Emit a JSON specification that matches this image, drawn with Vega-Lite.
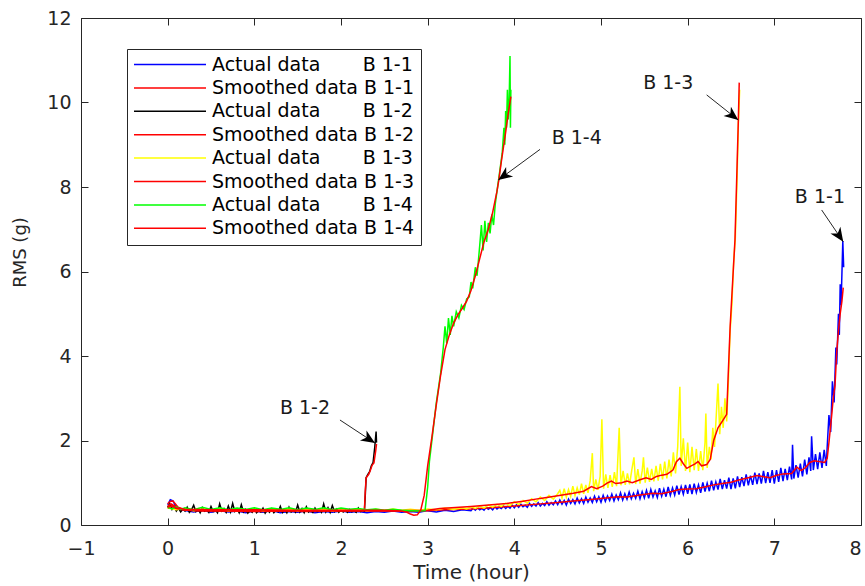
{
"$schema": "https://vega.github.io/schema/vega-lite/v6.json",
"width": 780, "height": 507,
"autosize": {"type": "none"},
"padding": {"left": 81, "top": 18, "right": 4, "bottom": 61},
"background": "white",
"config": {
  "view": {"stroke": null},
  "font": "DejaVu Sans",
  "axis": {"grid": false, "domainColor": "#262626", "tickColor": "#262626", "labelColor": "#262626", "titleColor": "#262626", "labelFont": "DejaVu Sans", "titleFont": "DejaVu Sans", "labelFontSize": 19, "titleFontSize": 19, "titleFontWeight": "normal", "tickSize": -7, "labelFlush": false, "domainWidth": 1, "tickWidth": 1}
},
"datasets": {
"rms": [
{"s":"A1","t":0,"v":0.48},{"s":"A1","t":0.03,"v":0.6},{"s":"A1","t":0.06,"v":0.57},{"s":"A1","t":0.09,"v":0.46},{"s":"A1","t":0.12,"v":0.39},{"s":"A1","t":0.2,"v":0.34},{"s":"A1","t":0.3,"v":0.31},{"s":"A1","t":0.4,"v":0.35},{"s":"A1","t":0.5,"v":0.3},{"s":"A1","t":0.6,"v":0.34},{"s":"A1","t":0.7,"v":0.31},{"s":"A1","t":0.8,"v":0.33},{"s":"A1","t":0.9,"v":0.29},{"s":"A1","t":1.0,"v":0.33},{"s":"A1","t":1.1,"v":0.3},{"s":"A1","t":1.2,"v":0.34},{"s":"A1","t":1.3,"v":0.29},{"s":"A1","t":1.4,"v":0.32},{"s":"A1","t":1.5,"v":0.3},{"s":"A1","t":1.6,"v":0.33},{"s":"A1","t":1.7,"v":0.29},{"s":"A1","t":1.8,"v":0.32},{"s":"A1","t":1.9,"v":0.3},{"s":"A1","t":2.0,"v":0.33},{"s":"A1","t":2.1,"v":0.3},{"s":"A1","t":2.2,"v":0.32},{"s":"A1","t":2.3,"v":0.29},{"s":"A1","t":2.4,"v":0.32},{"s":"A1","t":2.5,"v":0.3},{"s":"A1","t":2.6,"v":0.33},{"s":"A1","t":2.7,"v":0.3},{"s":"A1","t":2.8,"v":0.32},{"s":"A1","t":2.9,"v":0.3},{"s":"A1","t":3.0,"v":0.34},{"s":"A1","t":3.1,"v":0.31},{"s":"A1","t":3.2,"v":0.35},{"s":"A1","t":3.3,"v":0.32},{"s":"A1","t":3.4,"v":0.36},{"s":"A1","t":3.5,"v":0.34},
{"s":"A1","t":3.525,"v":0.4},{"s":"A1","t":3.55,"v":0.35},{"s":"A1","t":3.575,"v":0.41},{"s":"A1","t":3.6,"v":0.36},{"s":"A1","t":3.625,"v":0.39},{"s":"A1","t":3.65,"v":0.35},{"s":"A1","t":3.675,"v":0.42},{"s":"A1","t":3.7,"v":0.37},{"s":"A1","t":3.725,"v":0.41},{"s":"A1","t":3.75,"v":0.36},{"s":"A1","t":3.775,"v":0.43},{"s":"A1","t":3.8,"v":0.38},{"s":"A1","t":3.825,"v":0.42},{"s":"A1","t":3.85,"v":0.39},{"s":"A1","t":3.875,"v":0.45},{"s":"A1","t":3.9,"v":0.39},{"s":"A1","t":3.925,"v":0.44},{"s":"A1","t":3.95,"v":0.4},{"s":"A1","t":3.975,"v":0.47},{"s":"A1","t":4.0,"v":0.41},
{"s":"A1","t":4.025,"v":0.48},{"s":"A1","t":4.05,"v":0.42},{"s":"A1","t":4.075,"v":0.49},{"s":"A1","t":4.1,"v":0.43},{"s":"A1","t":4.125,"v":0.47},{"s":"A1","t":4.15,"v":0.42},{"s":"A1","t":4.175,"v":0.51},{"s":"A1","t":4.2,"v":0.44},{"s":"A1","t":4.225,"v":0.5},{"s":"A1","t":4.25,"v":0.45},{"s":"A1","t":4.275,"v":0.53},{"s":"A1","t":4.3,"v":0.45},{"s":"A1","t":4.325,"v":0.51},{"s":"A1","t":4.35,"v":0.46},{"s":"A1","t":4.375,"v":0.55},{"s":"A1","t":4.4,"v":0.47},{"s":"A1","t":4.425,"v":0.53},{"s":"A1","t":4.45,"v":0.48},{"s":"A1","t":4.475,"v":0.57},{"s":"A1","t":4.5,"v":0.48},
{"s":"A1","t":4.525,"v":0.59},{"s":"A1","t":4.55,"v":0.49},{"s":"A1","t":4.575,"v":0.58},{"s":"A1","t":4.6,"v":0.47},{"s":"A1","t":4.625,"v":0.61},{"s":"A1","t":4.65,"v":0.51},{"s":"A1","t":4.675,"v":0.6},{"s":"A1","t":4.7,"v":0.5},{"s":"A1","t":4.725,"v":0.64},{"s":"A1","t":4.75,"v":0.52},{"s":"A1","t":4.775,"v":0.62},{"s":"A1","t":4.8,"v":0.51},{"s":"A1","t":4.825,"v":0.66},{"s":"A1","t":4.85,"v":0.54},{"s":"A1","t":4.875,"v":0.64},{"s":"A1","t":4.9,"v":0.53},{"s":"A1","t":4.925,"v":0.68},{"s":"A1","t":4.95,"v":0.55},{"s":"A1","t":4.975,"v":0.67},{"s":"A1","t":5.0,"v":0.54},
{"s":"A1","t":5.025,"v":0.7},{"s":"A1","t":5.05,"v":0.56},{"s":"A1","t":5.075,"v":0.69},{"s":"A1","t":5.1,"v":0.58},{"s":"A1","t":5.125,"v":0.73},{"s":"A1","t":5.15,"v":0.57},{"s":"A1","t":5.175,"v":0.71},{"s":"A1","t":5.2,"v":0.6},{"s":"A1","t":5.225,"v":0.76},{"s":"A1","t":5.25,"v":0.59},{"s":"A1","t":5.275,"v":0.74},{"s":"A1","t":5.3,"v":0.61},{"s":"A1","t":5.325,"v":0.78},{"s":"A1","t":5.35,"v":0.62},{"s":"A1","t":5.375,"v":0.75},{"s":"A1","t":5.4,"v":0.63},{"s":"A1","t":5.425,"v":0.8},{"s":"A1","t":5.45,"v":0.62},{"s":"A1","t":5.475,"v":0.79},{"s":"A1","t":5.5,"v":0.64},
{"s":"A1","t":5.525,"v":0.82},{"s":"A1","t":5.55,"v":0.63},{"s":"A1","t":5.575,"v":0.84},{"s":"A1","t":5.6,"v":0.66},{"s":"A1","t":5.625,"v":0.81},{"s":"A1","t":5.65,"v":0.65},{"s":"A1","t":5.675,"v":0.87},{"s":"A1","t":5.7,"v":0.68},{"s":"A1","t":5.725,"v":0.85},{"s":"A1","t":5.75,"v":0.67},{"s":"A1","t":5.775,"v":0.9},{"s":"A1","t":5.8,"v":0.7},{"s":"A1","t":5.825,"v":0.88},{"s":"A1","t":5.85,"v":0.71},{"s":"A1","t":5.875,"v":0.93},{"s":"A1","t":5.9,"v":0.72},{"s":"A1","t":5.925,"v":0.91},{"s":"A1","t":5.95,"v":0.73},{"s":"A1","t":5.975,"v":0.95},{"s":"A1","t":6.0,"v":0.74},
{"s":"A1","t":6.025,"v":0.96},{"s":"A1","t":6.05,"v":0.73},{"s":"A1","t":6.075,"v":0.98},{"s":"A1","t":6.1,"v":0.77},{"s":"A1","t":6.125,"v":0.95},{"s":"A1","t":6.15,"v":0.76},{"s":"A1","t":6.175,"v":1.01},{"s":"A1","t":6.2,"v":0.79},{"s":"A1","t":6.225,"v":0.99},{"s":"A1","t":6.25,"v":0.8},{"s":"A1","t":6.275,"v":1.05},{"s":"A1","t":6.3,"v":0.82},{"s":"A1","t":6.325,"v":1.02},{"s":"A1","t":6.35,"v":0.84},{"s":"A1","t":6.375,"v":1.09},{"s":"A1","t":6.4,"v":0.85},{"s":"A1","t":6.425,"v":1.06},{"s":"A1","t":6.45,"v":0.86},{"s":"A1","t":6.475,"v":1.12},{"s":"A1","t":6.5,"v":0.85},
{"s":"A1","t":6.525,"v":1.1},{"s":"A1","t":6.55,"v":0.87},{"s":"A1","t":6.575,"v":1.15},{"s":"A1","t":6.6,"v":0.9},{"s":"A1","t":6.625,"v":1.13},{"s":"A1","t":6.65,"v":0.92},{"s":"A1","t":6.675,"v":1.2},{"s":"A1","t":6.7,"v":0.94},{"s":"A1","t":6.725,"v":1.17},{"s":"A1","t":6.75,"v":0.95},{"s":"A1","t":6.775,"v":1.24},{"s":"A1","t":6.8,"v":0.97},{"s":"A1","t":6.825,"v":1.22},{"s":"A1","t":6.85,"v":0.98},{"s":"A1","t":6.875,"v":1.28},{"s":"A1","t":6.9,"v":0.99},{"s":"A1","t":6.925,"v":1.25},{"s":"A1","t":6.95,"v":1.0},{"s":"A1","t":6.975,"v":1.3},{"s":"A1","t":7.0,"v":0.98},
{"s":"A1","t":7.025,"v":1.3},{"s":"A1","t":7.05,"v":1.02},{"s":"A1","t":7.075,"v":1.35},{"s":"A1","t":7.1,"v":1.04},{"s":"A1","t":7.125,"v":1.33},{"s":"A1","t":7.15,"v":1.06},{"s":"A1","t":7.175,"v":1.38},{"s":"A1","t":7.2,"v":1.08},{"s":"A1","t":7.21,"v":1.9},{"s":"A1","t":7.225,"v":1.1},{"s":"A1","t":7.25,"v":1.42},{"s":"A1","t":7.275,"v":1.12},{"s":"A1","t":7.3,"v":1.45},{"s":"A1","t":7.325,"v":1.15},{"s":"A1","t":7.35,"v":1.55},{"s":"A1","t":7.375,"v":1.2},{"s":"A1","t":7.4,"v":1.6},{"s":"A1","t":7.42,"v":1.28},{"s":"A1","t":7.43,"v":2.1},{"s":"A1","t":7.45,"v":1.3},{"s":"A1","t":7.475,"v":1.68},{"s":"A1","t":7.5,"v":1.32},{"s":"A1","t":7.525,"v":1.72},{"s":"A1","t":7.55,"v":1.35},{"s":"A1","t":7.575,"v":1.78},{"s":"A1","t":7.6,"v":1.4},{"s":"A1","t":7.61,"v":1.85},
{"s":"A1","t":7.63,"v":2.6},{"s":"A1","t":7.65,"v":2.2},{"s":"A1","t":7.67,"v":3.4},{"s":"A1","t":7.69,"v":2.9},{"s":"A1","t":7.71,"v":4.2},{"s":"A1","t":7.72,"v":3.8},{"s":"A1","t":7.74,"v":5.0},{"s":"A1","t":7.75,"v":4.5},{"s":"A1","t":7.76,"v":5.7},{"s":"A1","t":7.77,"v":5.2},{"s":"A1","t":7.79,"v":6.72},{"s":"A1","t":7.8,"v":6.1},
{"s":"S1","t":0,"v":0.5},{"s":"S1","t":0.03,"v":0.56},{"s":"S1","t":0.06,"v":0.57},{"s":"S1","t":0.09,"v":0.5},{"s":"S1","t":0.12,"v":0.42},{"s":"S1","t":0.2,"v":0.36},{"s":"S1","t":0.4,"v":0.34},{"s":"S1","t":0.8,"v":0.33},{"s":"S1","t":1.2,"v":0.33},{"s":"S1","t":1.6,"v":0.32},{"s":"S1","t":2.0,"v":0.33},{"s":"S1","t":2.4,"v":0.33},{"s":"S1","t":2.8,"v":0.33},{"s":"S1","t":3.0,"v":0.34},{"s":"S1","t":3.2,"v":0.36},{"s":"S1","t":3.5,"v":0.38},{"s":"S1","t":3.8,"v":0.42},{"s":"S1","t":4.0,"v":0.45},{"s":"S1","t":4.3,"v":0.5},{"s":"S1","t":4.5,"v":0.53},{"s":"S1","t":4.68,"v":0.57},{"s":"S1","t":4.85,"v":0.6},{"s":"S1","t":5.0,"v":0.63},{"s":"S1","t":5.2,"v":0.67},{"s":"S1","t":5.3,"v":0.66},{"s":"S1","t":5.45,"v":0.71},{"s":"S1","t":5.6,"v":0.75},{"s":"S1","t":5.7,"v":0.74},{"s":"S1","t":5.83,"v":0.8},{"s":"S1","t":5.9,"v":0.84},{"s":"S1","t":6.0,"v":0.85},{"s":"S1","t":6.1,"v":0.86},{"s":"S1","t":6.22,"v":0.91},{"s":"S1","t":6.3,"v":0.95},{"s":"S1","t":6.4,"v":0.98},{"s":"S1","t":6.5,"v":1.01},{"s":"S1","t":6.6,"v":1.07},{"s":"S1","t":6.7,"v":1.12},{"s":"S1","t":6.8,"v":1.17},{"s":"S1","t":6.88,"v":1.14},{"s":"S1","t":6.95,"v":1.12},{"s":"S1","t":7.02,"v":1.17},{"s":"S1","t":7.1,"v":1.21},{"s":"S1","t":7.2,"v":1.22},{"s":"S1","t":7.26,"v":1.37},{"s":"S1","t":7.31,"v":1.29},{"s":"S1","t":7.36,"v":1.36},{"s":"S1","t":7.41,"v":1.48},{"s":"S1","t":7.46,"v":1.52},{"s":"S1","t":7.52,"v":1.5},{"s":"S1","t":7.58,"v":1.48},{"s":"S1","t":7.61,"v":1.58},{"s":"S1","t":7.63,"v":1.95},{"s":"S1","t":7.66,"v":2.56},{"s":"S1","t":7.68,"v":3.0},{"s":"S1","t":7.7,"v":3.3},{"s":"S1","t":7.72,"v":4.1},{"s":"S1","t":7.74,"v":4.6},{"s":"S1","t":7.76,"v":5.0},{"s":"S1","t":7.78,"v":5.3},{"s":"S1","t":7.795,"v":5.62},
{"s":"A2","t":0,"v":0.42},{"s":"A2","t":0.025,"v":0.5},{"s":"A2","t":0.05,"v":0.37},{"s":"A2","t":0.075,"v":0.44},{"s":"A2","t":0.1,"v":0.33},{"s":"A2","t":0.125,"v":0.4},{"s":"A2","t":0.15,"v":0.31},{"s":"A2","t":0.175,"v":0.38},{"s":"A2","t":0.2,"v":0.33},{"s":"A2","t":0.225,"v":0.42},{"s":"A2","t":0.25,"v":0.3},{"s":"A2","t":0.275,"v":0.36},{"s":"A2","t":0.3,"v":0.47},{"s":"A2","t":0.325,"v":0.32},{"s":"A2","t":0.35,"v":0.38},{"s":"A2","t":0.375,"v":0.29},{"s":"A2","t":0.4,"v":0.41},{"s":"A2","t":0.425,"v":0.33},{"s":"A2","t":0.45,"v":0.37},{"s":"A2","t":0.475,"v":0.3},{"s":"A2","t":0.5,"v":0.44},{"s":"A2","t":0.525,"v":0.32},{"s":"A2","t":0.55,"v":0.36},{"s":"A2","t":0.575,"v":0.29},{"s":"A2","t":0.6,"v":0.5},{"s":"A2","t":0.625,"v":0.33},{"s":"A2","t":0.65,"v":0.39},{"s":"A2","t":0.675,"v":0.3},{"s":"A2","t":0.7,"v":0.45},{"s":"A2","t":0.725,"v":0.31},{"s":"A2","t":0.75,"v":0.51},{"s":"A2","t":0.775,"v":0.32},{"s":"A2","t":0.8,"v":0.38},{"s":"A2","t":0.825,"v":0.29},{"s":"A2","t":0.85,"v":0.48},{"s":"A2","t":0.875,"v":0.31},{"s":"A2","t":0.9,"v":0.37},{"s":"A2","t":0.925,"v":0.28},{"s":"A2","t":0.95,"v":0.35},{"s":"A2","t":0.975,"v":0.3},{"s":"A2","t":1.0,"v":0.39},{"s":"A2","t":1.025,"v":0.29},{"s":"A2","t":1.05,"v":0.34},{"s":"A2","t":1.075,"v":0.31},{"s":"A2","t":1.1,"v":0.4},{"s":"A2","t":1.125,"v":0.28},{"s":"A2","t":1.15,"v":0.36},{"s":"A2","t":1.175,"v":0.3},{"s":"A2","t":1.2,"v":0.38},{"s":"A2","t":1.225,"v":0.29},{"s":"A2","t":1.25,"v":0.35},{"s":"A2","t":1.275,"v":0.31},{"s":"A2","t":1.3,"v":0.44},{"s":"A2","t":1.325,"v":0.3},{"s":"A2","t":1.35,"v":0.37},{"s":"A2","t":1.375,"v":0.29},{"s":"A2","t":1.4,"v":0.42},{"s":"A2","t":1.425,"v":0.31},{"s":"A2","t":1.45,"v":0.36},{"s":"A2","t":1.475,"v":0.3},{"s":"A2","t":1.5,"v":0.47},{"s":"A2","t":1.525,"v":0.31},{"s":"A2","t":1.55,"v":0.39},{"s":"A2","t":1.575,"v":0.29},{"s":"A2","t":1.6,"v":0.43},{"s":"A2","t":1.625,"v":0.31},{"s":"A2","t":1.65,"v":0.36},{"s":"A2","t":1.675,"v":0.3},{"s":"A2","t":1.7,"v":0.4},{"s":"A2","t":1.725,"v":0.32},{"s":"A2","t":1.75,"v":0.37},{"s":"A2","t":1.775,"v":0.3},{"s":"A2","t":1.8,"v":0.5},{"s":"A2","t":1.825,"v":0.31},{"s":"A2","t":1.85,"v":0.41},{"s":"A2","t":1.875,"v":0.3},{"s":"A2","t":1.9,"v":0.46},{"s":"A2","t":1.925,"v":0.32},{"s":"A2","t":1.95,"v":0.38},{"s":"A2","t":1.975,"v":0.3},{"s":"A2","t":2.0,"v":0.36},{"s":"A2","t":2.025,"v":0.31},{"s":"A2","t":2.05,"v":0.35},{"s":"A2","t":2.075,"v":0.3},{"s":"A2","t":2.1,"v":0.37},{"s":"A2","t":2.125,"v":0.31},{"s":"A2","t":2.15,"v":0.34},{"s":"A2","t":2.175,"v":0.3},{"s":"A2","t":2.2,"v":0.4},{"s":"A2","t":2.225,"v":0.32},{"s":"A2","t":2.25,"v":0.35},{"s":"A2","t":2.27,"v":0.33},{"s":"A2","t":2.28,"v":0.7},{"s":"A2","t":2.29,"v":1.12},{"s":"A2","t":2.31,"v":1.2},{"s":"A2","t":2.33,"v":1.26},{"s":"A2","t":2.35,"v":1.4},{"s":"A2","t":2.37,"v":1.48},{"s":"A2","t":2.39,"v":1.85},{"s":"A2","t":2.405,"v":2.21},{"s":"A2","t":2.41,"v":1.95},
{"s":"S2","t":0,"v":0.44},{"s":"S2","t":0.04,"v":0.5},{"s":"S2","t":0.08,"v":0.45},{"s":"S2","t":0.15,"v":0.37},{"s":"S2","t":0.3,"v":0.34},{"s":"S2","t":0.6,"v":0.33},{"s":"S2","t":1.0,"v":0.32},{"s":"S2","t":1.4,"v":0.33},{"s":"S2","t":1.8,"v":0.33},{"s":"S2","t":2.2,"v":0.33},{"s":"S2","t":2.27,"v":0.34},{"s":"S2","t":2.28,"v":0.8},{"s":"S2","t":2.29,"v":1.12},{"s":"S2","t":2.32,"v":1.2},{"s":"S2","t":2.34,"v":1.3},{"s":"S2","t":2.36,"v":1.42},{"s":"S2","t":2.38,"v":1.47},{"s":"S2","t":2.4,"v":1.75},{"s":"S2","t":2.41,"v":1.92},
{"s":"A3","t":0,"v":0.4},{"s":"A3","t":0.1,"v":0.36},{"s":"A3","t":0.2,"v":0.39},{"s":"A3","t":0.3,"v":0.34},{"s":"A3","t":0.4,"v":0.38},{"s":"A3","t":0.5,"v":0.35},{"s":"A3","t":0.6,"v":0.39},{"s":"A3","t":0.7,"v":0.34},{"s":"A3","t":0.8,"v":0.37},{"s":"A3","t":0.9,"v":0.35},{"s":"A3","t":1.0,"v":0.38},{"s":"A3","t":1.1,"v":0.34},{"s":"A3","t":1.2,"v":0.37},{"s":"A3","t":1.3,"v":0.35},{"s":"A3","t":1.4,"v":0.38},{"s":"A3","t":1.5,"v":0.34},{"s":"A3","t":1.6,"v":0.37},{"s":"A3","t":1.7,"v":0.35},{"s":"A3","t":1.8,"v":0.38},{"s":"A3","t":1.9,"v":0.34},{"s":"A3","t":2.0,"v":0.36},{"s":"A3","t":2.1,"v":0.35},{"s":"A3","t":2.2,"v":0.38},{"s":"A3","t":2.3,"v":0.34},{"s":"A3","t":2.4,"v":0.37},{"s":"A3","t":2.5,"v":0.35},{"s":"A3","t":2.6,"v":0.38},{"s":"A3","t":2.7,"v":0.35},{"s":"A3","t":2.8,"v":0.37},{"s":"A3","t":2.9,"v":0.35},{"s":"A3","t":3.0,"v":0.38},{"s":"A3","t":3.1,"v":0.36},{"s":"A3","t":3.2,"v":0.4},{"s":"A3","t":3.3,"v":0.37},{"s":"A3","t":3.4,"v":0.41},
{"s":"A3","t":3.45,"v":0.38},{"s":"A3","t":3.5,"v":0.43},{"s":"A3","t":3.55,"v":0.39},{"s":"A3","t":3.6,"v":0.45},{"s":"A3","t":3.65,"v":0.4},{"s":"A3","t":3.7,"v":0.47},{"s":"A3","t":3.75,"v":0.42},{"s":"A3","t":3.8,"v":0.49},{"s":"A3","t":3.85,"v":0.44},{"s":"A3","t":3.9,"v":0.52},{"s":"A3","t":3.95,"v":0.46},{"s":"A3","t":4.0,"v":0.55},{"s":"A3","t":4.05,"v":0.49},{"s":"A3","t":4.1,"v":0.58},{"s":"A3","t":4.15,"v":0.52},{"s":"A3","t":4.2,"v":0.62},{"s":"A3","t":4.25,"v":0.55},{"s":"A3","t":4.3,"v":0.66},{"s":"A3","t":4.35,"v":0.58},{"s":"A3","t":4.4,"v":0.7},{"s":"A3","t":4.45,"v":0.61},{"s":"A3","t":4.5,"v":0.74},
{"s":"A3","t":4.525,"v":0.82},{"s":"A3","t":4.55,"v":0.64},{"s":"A3","t":4.575,"v":0.86},{"s":"A3","t":4.6,"v":0.66},{"s":"A3","t":4.625,"v":0.84},{"s":"A3","t":4.65,"v":0.68},{"s":"A3","t":4.675,"v":0.92},{"s":"A3","t":4.7,"v":0.7},{"s":"A3","t":4.725,"v":0.88},{"s":"A3","t":4.75,"v":0.72},{"s":"A3","t":4.775,"v":0.98},{"s":"A3","t":4.8,"v":0.74},{"s":"A3","t":4.825,"v":0.95},{"s":"A3","t":4.85,"v":0.76},{"s":"A3","t":4.875,"v":1.05},{"s":"A3","t":4.9,"v":1.7},{"s":"A3","t":4.915,"v":0.8},{"s":"A3","t":4.94,"v":1.08},{"s":"A3","t":4.965,"v":0.83},{"s":"A3","t":4.99,"v":1.15},{"s":"A3","t":5.01,"v":2.5},{"s":"A3","t":5.03,"v":0.86},{"s":"A3","t":5.055,"v":1.2},{"s":"A3","t":5.08,"v":0.88},{"s":"A3","t":5.105,"v":1.18},{"s":"A3","t":5.13,"v":0.9},{"s":"A3","t":5.155,"v":1.25},{"s":"A3","t":5.18,"v":0.92},{"s":"A3","t":5.21,"v":2.3},{"s":"A3","t":5.23,"v":0.94},{"s":"A3","t":5.255,"v":1.28},{"s":"A3","t":5.28,"v":0.95},{"s":"A3","t":5.305,"v":1.22},{"s":"A3","t":5.33,"v":0.96},{"s":"A3","t":5.355,"v":1.3},{"s":"A3","t":5.38,"v":1.6},{"s":"A3","t":5.4,"v":0.97},{"s":"A3","t":5.425,"v":1.32},{"s":"A3","t":5.45,"v":0.98},{"s":"A3","t":5.475,"v":1.28},{"s":"A3","t":5.49,"v":1.6},{"s":"A3","t":5.51,"v":1.0},{"s":"A3","t":5.535,"v":1.36},{"s":"A3","t":5.56,"v":1.02},{"s":"A3","t":5.585,"v":1.33},{"s":"A3","t":5.61,"v":1.03},{"s":"A3","t":5.635,"v":1.4},{"s":"A3","t":5.66,"v":1.05},{"s":"A3","t":5.685,"v":1.45},{"s":"A3","t":5.71,"v":1.08},{"s":"A3","t":5.735,"v":1.5},{"s":"A3","t":5.76,"v":1.1},{"s":"A3","t":5.785,"v":1.55},{"s":"A3","t":5.81,"v":1.15},{"s":"A3","t":5.835,"v":1.72},{"s":"A3","t":5.86,"v":1.22},{"s":"A3","t":5.885,"v":1.85},{"s":"A3","t":5.91,"v":3.27},{"s":"A3","t":5.925,"v":1.4},{"s":"A3","t":5.95,"v":2.05},{"s":"A3","t":5.975,"v":1.28},{"s":"A3","t":6.0,"v":1.95},{"s":"A3","t":6.025,"v":1.25},{"s":"A3","t":6.05,"v":1.85},{"s":"A3","t":6.075,"v":1.3},{"s":"A3","t":6.1,"v":1.8},{"s":"A3","t":6.125,"v":1.28},{"s":"A3","t":6.15,"v":1.75},{"s":"A3","t":6.175,"v":1.3},{"s":"A3","t":6.2,"v":1.95},{"s":"A3","t":6.21,"v":2.64},{"s":"A3","t":6.225,"v":1.35},{"s":"A3","t":6.25,"v":1.85},{"s":"A3","t":6.27,"v":1.55},{"s":"A3","t":6.29,"v":2.3},{"s":"A3","t":6.31,"v":1.85},{"s":"A3","t":6.33,"v":2.6},{"s":"A3","t":6.35,"v":3.35},{"s":"A3","t":6.37,"v":2.15},{"s":"A3","t":6.39,"v":2.8},{"s":"A3","t":6.41,"v":2.3},{"s":"A3","t":6.43,"v":3.0},{"s":"A3","t":6.45,"v":2.45},{"s":"A3","t":6.47,"v":3.4},{"s":"A3","t":6.49,"v":4.6},{"s":"A3","t":6.51,"v":5.2},{"s":"A3","t":6.53,"v":6.2},{"s":"A3","t":6.55,"v":6.8},{"s":"A3","t":6.57,"v":8.2},{"s":"A3","t":6.585,"v":9.5},{"s":"A3","t":6.6,"v":10.3},
{"s":"S3","t":0,"v":0.4},{"s":"S3","t":0.05,"v":0.44},{"s":"S3","t":0.1,"v":0.39},{"s":"S3","t":0.2,"v":0.35},{"s":"S3","t":0.5,"v":0.34},{"s":"S3","t":1.0,"v":0.34},{"s":"S3","t":1.5,"v":0.34},{"s":"S3","t":2.0,"v":0.34},{"s":"S3","t":2.5,"v":0.34},{"s":"S3","t":3.0,"v":0.35},{"s":"S3","t":3.14,"v":0.39},{"s":"S3","t":3.5,"v":0.44},{"s":"S3","t":3.91,"v":0.51},{"s":"S3","t":4.1,"v":0.56},{"s":"S3","t":4.3,"v":0.63},{"s":"S3","t":4.5,"v":0.69},{"s":"S3","t":4.68,"v":0.75},{"s":"S3","t":4.8,"v":0.8},{"s":"S3","t":4.89,"v":0.91},{"s":"S3","t":4.95,"v":0.86},{"s":"S3","t":5.02,"v":0.92},{"s":"S3","t":5.07,"v":0.99},{"s":"S3","t":5.12,"v":1.04},{"s":"S3","t":5.17,"v":0.98},{"s":"S3","t":5.24,"v":1.0},{"s":"S3","t":5.3,"v":1.04},{"s":"S3","t":5.36,"v":1.0},{"s":"S3","t":5.45,"v":1.07},{"s":"S3","t":5.52,"v":1.12},{"s":"S3","t":5.58,"v":1.08},{"s":"S3","t":5.64,"v":1.15},{"s":"S3","t":5.7,"v":1.18},{"s":"S3","t":5.76,"v":1.2},{"s":"S3","t":5.83,"v":1.3},{"s":"S3","t":5.87,"v":1.5},{"s":"S3","t":5.91,"v":1.58},{"s":"S3","t":5.95,"v":1.45},{"s":"S3","t":5.99,"v":1.34},{"s":"S3","t":6.04,"v":1.4},{"s":"S3","t":6.08,"v":1.44},{"s":"S3","t":6.12,"v":1.5},{"s":"S3","t":6.16,"v":1.4},{"s":"S3","t":6.22,"v":1.43},{"s":"S3","t":6.26,"v":1.55},{"s":"S3","t":6.3,"v":2.0},{"s":"S3","t":6.35,"v":2.3},{"s":"S3","t":6.41,"v":2.49},{"s":"S3","t":6.45,"v":2.62},{"s":"S3","t":6.47,"v":3.67},{"s":"S3","t":6.49,"v":4.69},{"s":"S3","t":6.52,"v":5.8},{"s":"S3","t":6.546,"v":6.75},{"s":"S3","t":6.57,"v":8.5},{"s":"S3","t":6.585,"v":9.6},{"s":"S3","t":6.595,"v":10.47},
{"s":"A4","t":0,"v":0.42},{"s":"A4","t":0.05,"v":0.38},{"s":"A4","t":0.1,"v":0.43},{"s":"A4","t":0.15,"v":0.37},{"s":"A4","t":0.2,"v":0.41},{"s":"A4","t":0.3,"v":0.36},{"s":"A4","t":0.4,"v":0.42},{"s":"A4","t":0.5,"v":0.37},{"s":"A4","t":0.6,"v":0.41},{"s":"A4","t":0.7,"v":0.36},{"s":"A4","t":0.8,"v":0.4},{"s":"A4","t":0.9,"v":0.37},{"s":"A4","t":1.0,"v":0.41},{"s":"A4","t":1.1,"v":0.36},{"s":"A4","t":1.2,"v":0.4},{"s":"A4","t":1.3,"v":0.37},{"s":"A4","t":1.4,"v":0.41},{"s":"A4","t":1.5,"v":0.36},{"s":"A4","t":1.6,"v":0.4},{"s":"A4","t":1.7,"v":0.37},{"s":"A4","t":1.8,"v":0.41},{"s":"A4","t":1.9,"v":0.36},{"s":"A4","t":2.0,"v":0.4},{"s":"A4","t":2.1,"v":0.37},{"s":"A4","t":2.2,"v":0.39},{"s":"A4","t":2.3,"v":0.36},{"s":"A4","t":2.4,"v":0.38},{"s":"A4","t":2.5,"v":0.35},{"s":"A4","t":2.6,"v":0.37},{"s":"A4","t":2.7,"v":0.35},{"s":"A4","t":2.8,"v":0.34},{"s":"A4","t":2.9,"v":0.33},{"s":"A4","t":2.97,"v":0.34},{"s":"A4","t":3.0,"v":0.9},{"s":"A4","t":3.02,"v":1.5},{"s":"A4","t":3.06,"v":2.2},{"s":"A4","t":3.1,"v":2.9},{"s":"A4","t":3.15,"v":3.6},{"s":"A4","t":3.18,"v":4.2},{"s":"A4","t":3.2,"v":4.7},{"s":"A4","t":3.22,"v":4.3},{"s":"A4","t":3.24,"v":4.9},{"s":"A4","t":3.26,"v":4.5},{"s":"A4","t":3.28,"v":4.95},{"s":"A4","t":3.3,"v":4.7},{"s":"A4","t":3.33,"v":5.05},{"s":"A4","t":3.36,"v":4.9},{"s":"A4","t":3.39,"v":5.2},{"s":"A4","t":3.42,"v":5.1},{"s":"A4","t":3.45,"v":5.35},{"s":"A4","t":3.48,"v":5.4},{"s":"A4","t":3.5,"v":5.75},{"s":"A4","t":3.52,"v":5.6},{"s":"A4","t":3.55,"v":6.1},{"s":"A4","t":3.57,"v":5.9},{"s":"A4","t":3.6,"v":6.6},{"s":"A4","t":3.62,"v":7.1},{"s":"A4","t":3.64,"v":6.5},{"s":"A4","t":3.66,"v":7.2},{"s":"A4","t":3.68,"v":6.7},{"s":"A4","t":3.7,"v":7.15},{"s":"A4","t":3.72,"v":6.9},{"s":"A4","t":3.74,"v":7.35},{"s":"A4","t":3.76,"v":7.1},{"s":"A4","t":3.78,"v":7.6},{"s":"A4","t":3.8,"v":7.9},{"s":"A4","t":3.82,"v":8.2},{"s":"A4","t":3.84,"v":8.5},{"s":"A4","t":3.86,"v":8.8},{"s":"A4","t":3.88,"v":9.4},{"s":"A4","t":3.89,"v":9.0},{"s":"A4","t":3.9,"v":9.8},{"s":"A4","t":3.91,"v":9.4},{"s":"A4","t":3.92,"v":10.3},{"s":"A4","t":3.93,"v":9.6},{"s":"A4","t":3.94,"v":10.0},{"s":"A4","t":3.95,"v":11.1},{"s":"A4","t":3.955,"v":9.4},{"s":"A4","t":3.96,"v":10.3},
{"s":"S4","t":0,"v":0.42},{"s":"S4","t":0.05,"v":0.46},{"s":"S4","t":0.1,"v":0.4},{"s":"S4","t":0.2,"v":0.37},{"s":"S4","t":0.5,"v":0.36},{"s":"S4","t":1.0,"v":0.36},{"s":"S4","t":1.5,"v":0.35},{"s":"S4","t":2.0,"v":0.35},{"s":"S4","t":2.5,"v":0.35},{"s":"S4","t":2.7,"v":0.33},{"s":"S4","t":2.76,"v":0.3},{"s":"S4","t":2.8,"v":0.26},{"s":"S4","t":2.84,"v":0.23},{"s":"S4","t":2.88,"v":0.24},{"s":"S4","t":2.92,"v":0.35},{"s":"S4","t":2.96,"v":0.7},{"s":"S4","t":3.0,"v":1.4},{"s":"S4","t":3.05,"v":2.1},{"s":"S4","t":3.1,"v":2.85},{"s":"S4","t":3.15,"v":3.55},{"s":"S4","t":3.2,"v":4.15},{"s":"S4","t":3.25,"v":4.5},{"s":"S4","t":3.3,"v":4.78},{"s":"S4","t":3.35,"v":4.98},{"s":"S4","t":3.4,"v":5.13},{"s":"S4","t":3.45,"v":5.3},{"s":"S4","t":3.5,"v":5.55},{"s":"S4","t":3.55,"v":5.9},{"s":"S4","t":3.6,"v":6.3},{"s":"S4","t":3.65,"v":6.7},{"s":"S4","t":3.7,"v":7.0},{"s":"S4","t":3.75,"v":7.4},{"s":"S4","t":3.8,"v":7.9},{"s":"S4","t":3.82,"v":8.15},{"s":"S4","t":3.85,"v":8.6},{"s":"S4","t":3.9,"v":9.3},{"s":"S4","t":3.93,"v":9.75},{"s":"S4","t":3.96,"v":10.14}
],
"notes": [
{"n":"B 1-1","tx":7.526,"ty":7.76,"t":7.546,"v":7.456,"t2":7.795,"v2":6.705},
{"n":"B 1-2","tx":1.584,"ty":2.77,"t":1.988,"v":2.485,"t2":2.392,"v2":1.94},
{"n":"B 1-3","tx":5.776,"ty":10.45,"t":6.219,"v":10.18,"t2":6.584,"v2":9.586},
{"n":"B 1-4","tx":4.72,"ty":9.15,"t":4.296,"v":8.89,"t2":3.815,"v2":8.166}
]
},
"layer": [
{
 "data": {"name": "rms"},
 "mark": {"type": "line", "strokeWidth": 1.5},
 "encoding": {
  "x": {"field": "t", "type": "quantitative", "scale": {"domain": [-1, 8], "nice": false, "zero": false},
        "axis": {"orient": "bottom", "values": [-1,0,1,2,3,4,5,6,7,8], "title": "Time (hour)", "labelPadding": 21, "titleY": 47, "titleBaseline": "middle", "titleFontSize": 20,
                 "labelAlign": {"condition": {"test": "datum.value === 8", "value": "right"}, "value": "center"}}},
  "y": {"field": "v", "type": "quantitative", "scale": {"domain": [0, 12], "nice": false, "zero": false},
        "axis": {"orient": "left", "values": [0,2,4,6,8,10,12], "title": "RMS (g)", "labelPadding": 17, "titleX": -61, "titleY": 234, "titleBaseline": "middle", "titleAlign": "center", "titleAngle": -90, "titleFontSize": 18}},
  "color": {"field": "s", "type": "nominal",
            "scale": {"domain": ["A1","S1","A2","S2","A3","S3","A4","S4"], "range": ["#0000ff","#ff0000","#000000","#ff0000","#ffff00","#ff0000","#00ff00","#ff0000"]},
            "legend": {"orient": "none", "legendX": 46, "legendY": 31, "title": null, "symbolType": "stroke", "symbolSize": 5184, "symbolStrokeWidth": 1.5, "labelFontSize": 19, "labelFont": "DejaVu Sans", "labelColor": "#000000", "clipHeight": 19, "rowPadding": 3.4, "labelOffset": 5, "padding": 6, "strokeColor": "#262626", "fillColor": "white", "labelLimit": 400,
                       "labelExpr": "(slice(datum.label,0,1)=='A' ? 'Actual data\u00a0\u00a0\u00a0\u00a0\u00a0\u00a0\u00a0' : 'Smoothed data ') + 'B 1-' + slice(datum.label,1)"}}
 }
},
{
 "data": {"name": "notes"},
 "mark": {"type": "rule", "color": "#262626", "strokeWidth": 1},
 "encoding": {
  "x": {"field": "t", "type": "quantitative", "scale": {"domain": [-1, 8], "nice": false, "zero": false}, "axis": null},
  "y": {"field": "v", "type": "quantitative", "scale": {"domain": [0, 12], "nice": false, "zero": false}, "axis": null},
  "x2": {"field": "t2"},
  "y2": {"field": "v2"}
 }
},
{
 "data": {"name": "notes"},
 "mark": {"type": "point", "shape": "M0,0L1.2,2.8L0,2L-1.2,2.8Z", "filled": true, "color": "#000000", "size": 100, "opacity": 1},
 "encoding": {
  "x": {"field": "t2", "type": "quantitative", "scale": {"domain": [-1, 8], "nice": false, "zero": false}, "axis": null},
  "y": {"field": "v2", "type": "quantitative", "scale": {"domain": [0, 12], "nice": false, "zero": false}, "axis": null},
  "angle": {"condition": [{"test": "datum.n==='B 1-1'", "value": 146}, {"test": "datum.n==='B 1-2'", "value": 123}, {"test": "datum.n==='B 1-3'", "value": 128}], "value": -126}
 }
},
{
 "data": {"name": "notes"},
 "mark": {"type": "text", "fontSize": 19, "font": "DejaVu Sans", "color": "#1a1a1a"},
 "encoding": {
  "x": {"field": "tx", "type": "quantitative", "scale": {"domain": [-1, 8], "nice": false, "zero": false},
        "axis": {"orient": "top", "labels": false, "title": null, "values": [-1,0,1,2,3,4,5,6,7,8]}},
  "y": {"field": "ty", "type": "quantitative", "scale": {"domain": [0, 12], "nice": false, "zero": false},
        "axis": {"orient": "right", "labels": false, "title": null, "values": [0,2,4,6,8,10,12]}},
  "text": {"field": "n"}
 }
}
],
"resolve": {"axis": {"x": "independent", "y": "independent"}}
}
